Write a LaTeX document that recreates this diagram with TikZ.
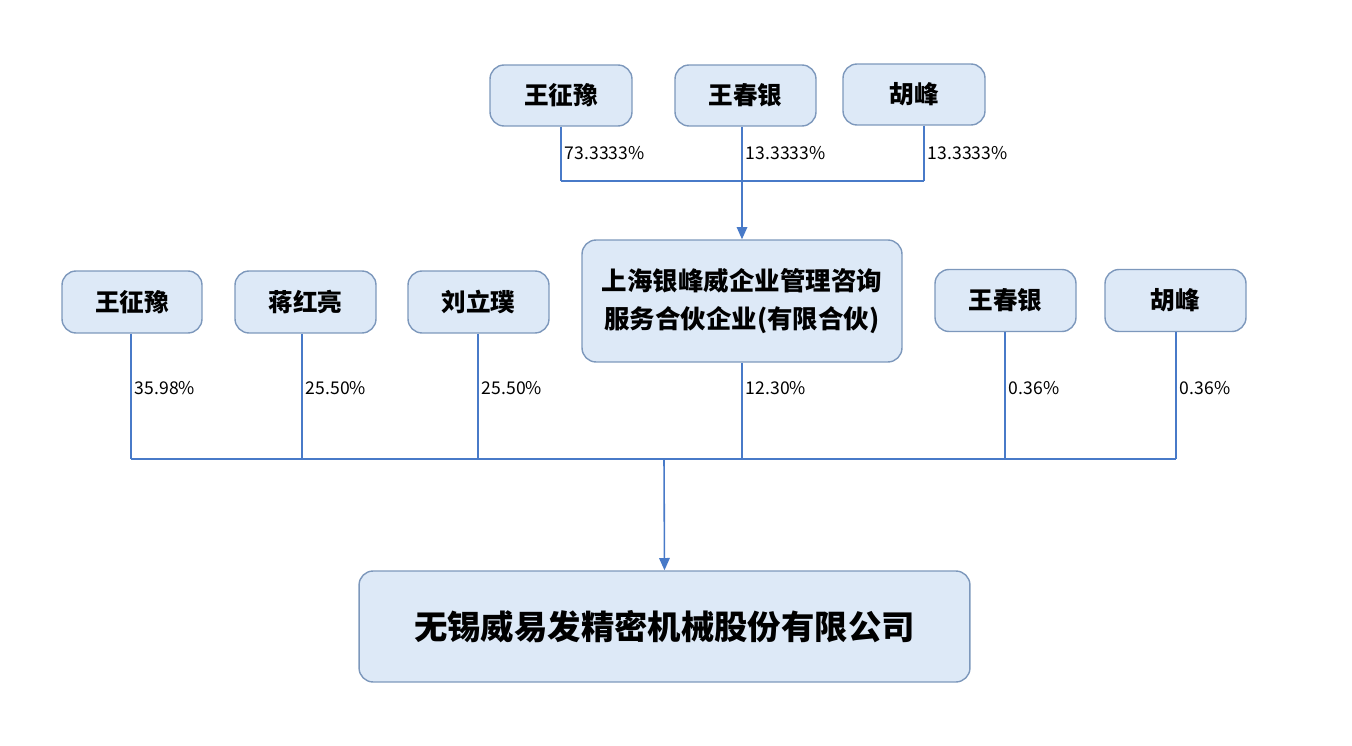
\documentclass[tikz,border=0pt]{standalone}
\usepackage{fontspec}
\setmainfont{Noto Sans CJK SC}
\usetikzlibrary{positioning,arrows.meta,calc}
\definecolor{boxfill}{RGB}{221,233,247}
\definecolor{boxline}{RGB}{125,152,188}
\definecolor{linkblue}{RGB}{72,122,200}
\begin{document}
\begin{tikzpicture}[x=0.02cm,y=-0.02cm,
    box/.style={rectangle,rounded corners=8pt,draw=boxline,fill=boxfill,line width=0.8pt,align=center,font=\bfseries\fontsize{14}{18}\selectfont,inner sep=0pt},
    link/.style={draw=linkblue,line width=0.9pt},
    arrow/.style={link,-{Triangle[width=6pt,length=7pt]}},
    pct/.style={font=\fontsize{10}{12}\selectfont,anchor=west,inner sep=2pt}
]
    \useasboundingbox (0,0) rectangle (1352,746);
    % Top shareholders
    \node[box,minimum width=2.84cm,minimum height=1.22cm] (tw) at (561,95.5) {王征豫};
    \node[box,minimum width=2.82cm,minimum height=1.22cm] (tc) at (745.5,95.5) {王春银};
    \node[box,minimum width=2.84cm,minimum height=1.22cm] (th) at (914,94.5) {胡峰};
    % Partnership and middle row
    \node[box,minimum width=6.4cm,minimum height=2.44cm,font=\bfseries\fontsize{14.5}{22}\selectfont] (partner) at (742,301) {上海银峰威企业管理咨询\\服务合伙企业(有限合伙)};
    \node[box,minimum width=2.8cm,minimum height=1.24cm] (mw) at (132,302) {王征豫};
    \node[box,minimum width=2.82cm,minimum height=1.24cm] (mj) at (305.5,302) {蒋红亮};
    \node[box,minimum width=2.82cm,minimum height=1.24cm] (ml) at (478.5,302) {刘立璞};
    \node[box,minimum width=2.82cm,minimum height=1.24cm] (mc) at (1005.5,300.5) {王春银};
    \node[box,minimum width=2.82cm,minimum height=1.24cm] (mh) at (1175.5,300.5) {胡峰};
    % Company
    \node[box,minimum width=12.22cm,minimum height=2.22cm,font=\bfseries\fontsize{19}{24}\selectfont] (corp) at (664.5,626.5) {无锡威易发精密机械股份有限公司};
    % Junctions
    \coordinate (jt) at (742,181);
    \coordinate (jb) at (664,459);
    % Top links
    \foreach \n/\x/\p in {tw/561/73.3333,tc/742/13.3333,th/924/13.3333}{
        \draw[link] (\x,0 |- \n.south) -- (\x,181);
        \node[pct] at (\x,153) {\p\%};
    }
    \draw[link] (561,181) -- (924,181);
    \draw[arrow] (jt) -- (partner.north);
    % Middle links
    \foreach \n/\x/\p in {mw/131/35.98,mj/302/25.50,ml/478/25.50,partner/742/12.30,mc/1005/0.36,mh/1176/0.36}{
        \draw[link] (\x,0 |- \n.south) -- (\x,459);
        \node[pct] at (\x,388) {\p\%};
    }
    \draw[link] (131,459) -- (1176,459);
    \draw[arrow] (jb) -- (corp.north);
\end{tikzpicture}
\end{document}
